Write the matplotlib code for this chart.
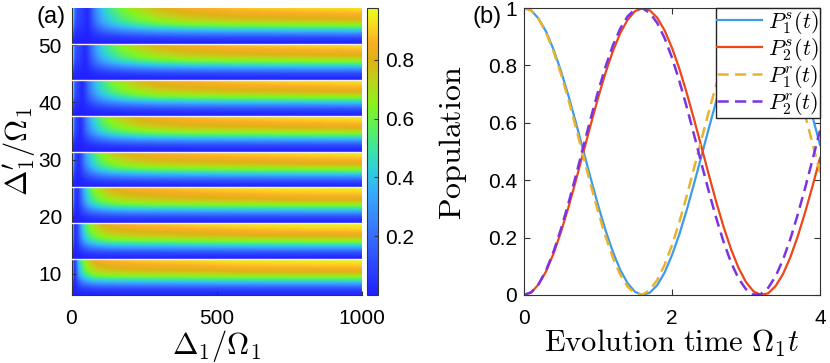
import numpy as np
import matplotlib
matplotlib.use("Agg")
import matplotlib.pyplot as plt
from matplotlib.colors import LinearSegmentedColormap, Normalize

plt.rcParams['font.family'] = ['Liberation Sans', 'DejaVu Sans']
plt.rcParams['mathtext.fontset'] = 'cm'

# ---------------- panel (a) data ----------------
TWO_PI = 2 * np.pi
BAND_STARTS = [1, 2, 3, 4, 5, 6, 7, 8]          # band k spans [2*pi*k, 2*pi*(k+1)]
F_NODES = [0.0, 0.1, 0.2, 0.3, 0.4, 0.5, 0.6, 0.7, 0.8, 0.9, 1.0]   # position inside band
B_PROFILE = [0.01, 0.04, 0.13, 0.28, 0.45, 0.63, 0.77, 0.86, 0.915, 0.96, 1.0]
X_NODES = [0, 3, 7, 12, 18, 25, 32, 40, 48, 56, 64, 75, 90, 110, 140, 180, 230, 300, 400, 550, 750, 1000]
TOP_VALUES = [
    [0.88, 0.40, 0.08, 0.04, 0.15, 0.35, 0.48, 0.58, 0.65, 0.71, 0.75, 0.80, 0.84, 0.86, 0.88, 0.89, 0.90, 0.91, 0.92, 0.94, 0.95, 0.96],
    [0.88, 0.45, 0.12, 0.04, 0.05, 0.14, 0.27, 0.40, 0.50, 0.58, 0.63, 0.69, 0.75, 0.80, 0.84, 0.86, 0.88, 0.89, 0.91, 0.93, 0.95, 0.96],
    [0.88, 0.52, 0.18, 0.07, 0.03, 0.06, 0.16, 0.28, 0.38, 0.47, 0.54, 0.61, 0.68, 0.74, 0.80, 0.84, 0.86, 0.88, 0.90, 0.92, 0.94, 0.95],
    [0.88, 0.58, 0.22, 0.10, 0.06, 0.03, 0.08, 0.18, 0.28, 0.36, 0.42, 0.50, 0.58, 0.66, 0.74, 0.80, 0.84, 0.87, 0.89, 0.91, 0.93, 0.95],
    [0.88, 0.62, 0.24, 0.12, 0.08, 0.04, 0.03, 0.09, 0.18, 0.27, 0.34, 0.42, 0.51, 0.60, 0.69, 0.76, 0.82, 0.86, 0.89, 0.91, 0.93, 0.95],
    [0.88, 0.65, 0.26, 0.14, 0.10, 0.07, 0.03, 0.03, 0.09, 0.17, 0.25, 0.33, 0.43, 0.52, 0.62, 0.71, 0.78, 0.84, 0.87, 0.90, 0.92, 0.94],
    [0.88, 0.68, 0.28, 0.15, 0.12, 0.10, 0.07, 0.04, 0.02, 0.06, 0.14, 0.24, 0.35, 0.46, 0.56, 0.66, 0.74, 0.81, 0.86, 0.89, 0.91, 0.93],
    [0.88, 0.70, 0.30, 0.16, 0.12, 0.10, 0.08, 0.06, 0.03, 0.02, 0.07, 0.18, 0.30, 0.41, 0.52, 0.62, 0.70, 0.78, 0.84, 0.88, 0.90, 0.92],
]
A_XTICKS = [0, 500, 1000]
A_YTICKS = [10, 20, 30, 40, 50]
CB_TICKS = [0.2, 0.4, 0.6, 0.8]
CB_MAX = 0.976

# ---------------- panel (b) data ----------------
t = [0.0, 0.1, 0.2, 0.3, 0.4, 0.5, 0.6, 0.7, 0.8, 0.9, 1.0, 1.1, 1.2, 1.3, 1.4, 1.5, 1.6, 1.7, 1.8, 1.9, 2.0,
     2.1, 2.2, 2.3, 2.4, 2.5, 2.6, 2.7, 2.8, 2.9, 3.0, 3.1, 3.2, 3.3, 3.4, 3.5, 3.6, 3.7, 3.8, 3.9, 4.0]
P1s = [1.000, 0.991, 0.962, 0.917, 0.855, 0.780, 0.695, 0.602, 0.505, 0.408, 0.314, 0.227, 0.151, 0.088, 0.041,
       0.011, 0.000, 0.008, 0.034, 0.078, 0.139, 0.212, 0.297, 0.390, 0.486, 0.583, 0.678, 0.765, 0.842, 0.906,
       0.955, 0.987, 1.000, 0.994, 0.969, 0.927, 0.868, 0.795, 0.711, 0.620, 0.523]
P2s = [0.000, 0.009, 0.038, 0.083, 0.145, 0.220, 0.305, 0.398, 0.495, 0.592, 0.686, 0.773, 0.849, 0.912, 0.959,
       0.989, 1.000, 0.992, 0.966, 0.922, 0.861, 0.788, 0.703, 0.610, 0.514, 0.417, 0.322, 0.235, 0.158, 0.094,
       0.045, 0.013, 0.000, 0.006, 0.031, 0.073, 0.132, 0.205, 0.289, 0.380, 0.477]
P1r = [1.000, 0.990, 0.961, 0.913, 0.848, 0.770, 0.681, 0.585, 0.485, 0.386, 0.292, 0.206, 0.131, 0.072, 0.029,
       0.005, 0.001, 0.017, 0.052, 0.105, 0.173, 0.255, 0.346, 0.444, 0.544, 0.642, 0.734, 0.817, 0.888, 0.943,
       0.980, 0.998, 0.997, 0.975, 0.935, 0.877, 0.804, 0.719, 0.626, 0.527, 0.427]
P2r = [0.000, 0.010, 0.039, 0.087, 0.152, 0.230, 0.319, 0.415, 0.515, 0.614, 0.708, 0.794, 0.869, 0.928, 0.971,
       0.995, 0.999, 0.983, 0.948, 0.895, 0.827, 0.745, 0.654, 0.556, 0.456, 0.358, 0.266, 0.183, 0.112, 0.057,
       0.020, 0.002, 0.003, 0.025, 0.065, 0.123, 0.196, 0.281, 0.374, 0.473, 0.573]
B_LABELS = [r'$P_1^s(t)$', r'$P_2^s(t)$', r'$P_1^r(t)$', r'$P_2^r(t)$']
B_XTICKS = [0, 2, 4]
B_YTICKS = [0, 0.2, 0.4, 0.6, 0.8, 1]

# ---------------- colormap ----------------
cmap = LinearSegmentedColormap.from_list('parula_like', [
    (0.00, (0.13, 0.13, 1.00)),
    (0.12, (0.18, 0.30, 1.00)),
    (0.25, (0.22, 0.50, 1.00)),
    (0.36, (0.22, 0.68, 0.98)),
    (0.44, (0.18, 0.82, 0.85)),
    (0.52, (0.25, 0.90, 0.60)),
    (0.60, (0.40, 0.95, 0.30)),
    (0.67, (0.55, 0.95, 0.10)),
    (0.75, (0.75, 0.82, 0.10)),
    (0.82, (0.87, 0.70, 0.08)),
    (0.88, (0.98, 0.68, 0.15)),
    (0.94, (0.98, 0.85, 0.12)),
    (1.00, (0.90, 1.00, 0.10)),
])
norm = Normalize(0, CB_MAX)

W, H = 830, 363
fig = plt.figure(figsize=(W / 100, H / 100), dpi=100)

def rect(l, r, top, bot):
    return [l / W, 1 - bot / H, (r - l) / W, (bot - top) / H]

ax_a = fig.add_axes(rect(71.5, 361.5, 8, 295))
cax = fig.add_axes(rect(366.7, 377.7, 8, 295))
ax_b = fig.add_axes(rect(524, 820, 8, 295))

EDGE = '#333333'
levels = np.linspace(0, CB_MAX, 160)
for k, top in zip(BAND_STARTS, TOP_VALUES):
    Y = TWO_PI * (k + np.array(F_NODES))
    Z = np.outer(B_PROFILE, top)
    cs = ax_a.contourf(X_NODES, Y, Z, levels=levels, cmap=cmap, norm=norm, extend='both')
    cs.set_edgecolor('face')
    cs.set_linewidth(0.3)
for k in BAND_STARTS[1:]:
    ax_a.axhline(TWO_PI * k, color='#f4eef4', lw=1.0, zorder=3)
ax_a.set_xlim(0, 1000)
ax_a.set_ylim(TWO_PI * 1, TWO_PI * 9)
ax_a.set_xticks(A_XTICKS)
ax_a.set_yticks(A_YTICKS)
ax_a.tick_params(direction='in', length=3, labelsize=15, color=EDGE)
ax_a.tick_params(axis='x', pad=10)
ax_a.tick_params(axis='y', pad=7)
for s in ['top', 'right']:
    ax_a.spines[s].set_visible(False)
for s in ['left', 'bottom']:
    ax_a.spines[s].set_color(EDGE)
ax_a.set_xlabel(r'$\Delta_1/\Omega_1$', fontsize=22, labelpad=0)
ax_a.set_ylabel(r"$\Delta_1'/\Omega_1$", fontsize=22, labelpad=0)

sm = plt.cm.ScalarMappable(norm=norm, cmap=cmap)
cb = fig.colorbar(sm, cax=cax, ticks=CB_TICKS)
cb.outline.set_edgecolor(EDGE)
cax.tick_params(direction='in', length=3, labelsize=15, pad=5, color=EDGE)
cb.set_ticklabels(['0.2', '0.4', '0.6', '0.8'])

# ---------------- panel (b) ----------------
colors = ['#3d9be9', '#ee4616', '#ebb22b', '#7b33e3']
ax_b.plot(t, P1s, color=colors[0], lw=1.6, label=B_LABELS[0])
ax_b.plot(t, P2s, color=colors[1], lw=1.6, label=B_LABELS[1])
ax_b.plot(t, P1r, color=colors[2], lw=1.8, dashes=(4.5, 2.5), label=B_LABELS[2])
ax_b.plot(t, P2r, color=colors[3], lw=1.8, dashes=(4.5, 2.5), label=B_LABELS[3])
ax_b.set_xlim(0, 4)
ax_b.set_ylim(0, 1)
ax_b.set_xticks(B_XTICKS)
ax_b.set_yticks(B_YTICKS)
ax_b.set_yticklabels(['0', '0.2', '0.4', '0.6', '0.8', '1'])
ax_b.tick_params(direction='in', length=4, labelsize=15, top=True, right=True, color=EDGE)
ax_b.tick_params(axis='x', pad=10)
ax_b.tick_params(axis='y', pad=5)
for s in ax_b.spines.values():
    s.set_color(EDGE)
ax_b.set_xlabel(r'$\mathrm{Evolution\ time}\ \Omega_1 t$', fontsize=22, labelpad=0)
ax_b.set_ylabel(r'$\mathrm{Population}$', fontsize=23)
ax_b.yaxis.set_label_coords(-0.185, 0.53)
leg = ax_b.legend(loc='upper right', borderaxespad=0, fontsize=16, fancybox=False,
                  framealpha=1, edgecolor='#222222', handlelength=2.0, labelspacing=0.0,
                  borderpad=0.05, handletextpad=0.3)
leg.get_frame().set_linewidth(1.0)

fig.text(36 / W, 1 - 17 / H, '(a)', fontsize=17, va='center', ha='left')
fig.text(472 / W, 1 - 16.5 / H, '(b)', fontsize=17, va='center', ha='left')

fig.savefig('out.png', dpi=100)
